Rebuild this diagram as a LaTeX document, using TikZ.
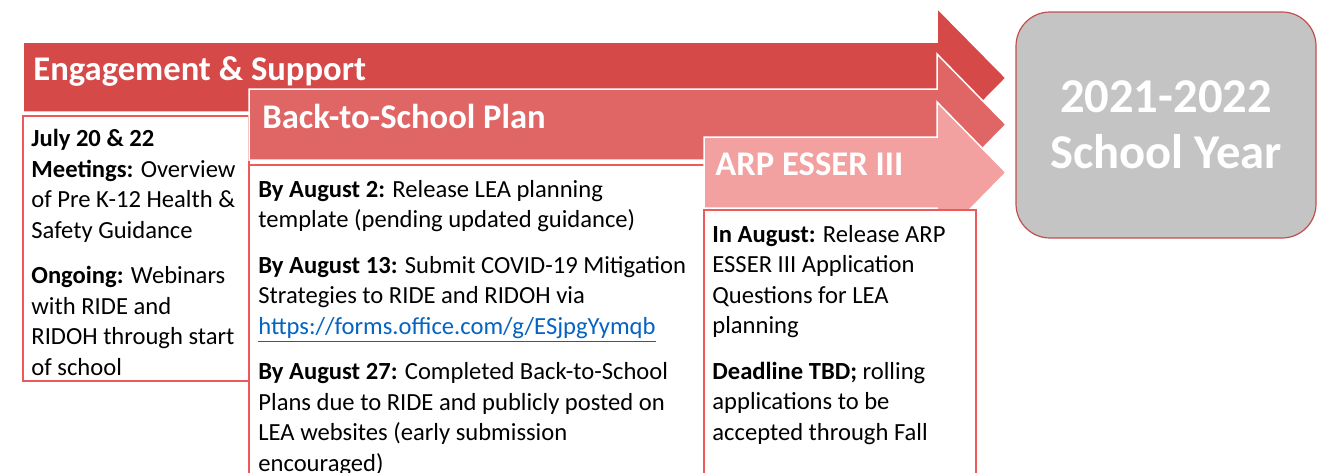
\documentclass[tikz,border=0pt]{standalone}
\usepackage{fontspec}
\setmainfont{Carlito}
\definecolor{engred}{RGB}{213,73,73}
\definecolor{planred}{RGB}{224,102,102}
\definecolor{arppink}{RGB}{242,160,160}
\definecolor{boxline}{RGB}{238,90,90}
\definecolor{yeargray}{RGB}{196,196,196}
\definecolor{yearline}{RGB}{192,80,77}
\definecolor{linkblue}{RGB}{5,99,193}

\begin{document}
\begin{tikzpicture}[x=0.5pt, y=-0.5pt,
  banner/.style={draw=white, line width=0.75pt},
  notebox/.style={draw=boxline, line width=0.75pt, fill=white},
  headtext/.style={anchor=base west, inner sep=0, text=white, font=\fontsize{17.3}{20}\selectfont\bfseries},
  bodytext/.style={anchor=base west, inner sep=0, align=left, font=\fontsize{12.3}{15.25}\selectfont},
  yearbox/.style={draw=yearline, line width=0.6pt, fill=yeargray, rounded corners=17pt,
    minimum width=150pt, minimum height=113pt, align=center, text=white,
    font=\fontsize{24.3}{28}\selectfont\bfseries}]
\clip (0,0) rectangle (1317,472);

% banners
\path[banner, fill=engred] (23,42) -- (937,42) -- (937,8) -- (1006,78) -- (937,148) -- (937,112) -- (23,112) -- cycle;
\draw[notebox] (23,116) rectangle (249,381);
\path[banner, fill=planred] (249,89) -- (937,89) -- (937,54) -- (1006,124.5) -- (937,195) -- (937,160) -- (249,160) -- cycle;
\draw[notebox] (249,165) rectangle (705,490);
\path[banner, fill=arppink] (704,137) -- (937,137) -- (937,102) -- (1006,172.5) -- (937,243) -- (937,208) -- (704,208) -- cycle;
\draw[notebox] (704,210) rectangle (976,490);

% titles
\node[headtext] (engage) at (33,80) {Engagement \& Support};
\node[headtext] (plan) at (262,128) {Back-to-School Plan};
\node[headtext] (arp) at (715,175) {ARP ESSER III};

% notes (anchored on the last line)
\node[bodytext] (engnote) at (31,375) {\textbf{July 20 \& 22}\\
  \textbf{Meetings:} Overview\\
  of Pre K-12 Health \&\\
  Safety Guidance\\[7.5pt]
  \textbf{Ongoing:} Webinars\\
  with RIDE and\\
  RIDOH through start\\
  of school};
\node[bodytext] (plannote) at (258,471) {\textbf{By August 2:} Release LEA planning\\
  template (pending updated guidance)\\[7.5pt]
  \textbf{By August 13:} Submit COVID-19 Mitigation\\
  Strategies to RIDE and RIDOH via\\
  \textcolor{linkblue}{\underline{https://forms.office.com/g/ESjpgYymqb}}\\[7.5pt]
  \textbf{By August 27:} Completed Back-to-School\\
  Plans due to RIDE and publicly posted on\\
  LEA websites (early submission\\
  encouraged)};
\node[bodytext] (arpnote) at (712,440) {\textbf{In August:} Release ARP\\
  ESSER III Application\\
  Questions for LEA\\
  planning\\[7.5pt]
  \textbf{Deadline TBD;} rolling\\
  applications to be\\
  accepted through Fall};

% goal
\node[yearbox] (year) at (1166,125) {2021-2022\\School Year};
\end{tikzpicture}
\end{document}
